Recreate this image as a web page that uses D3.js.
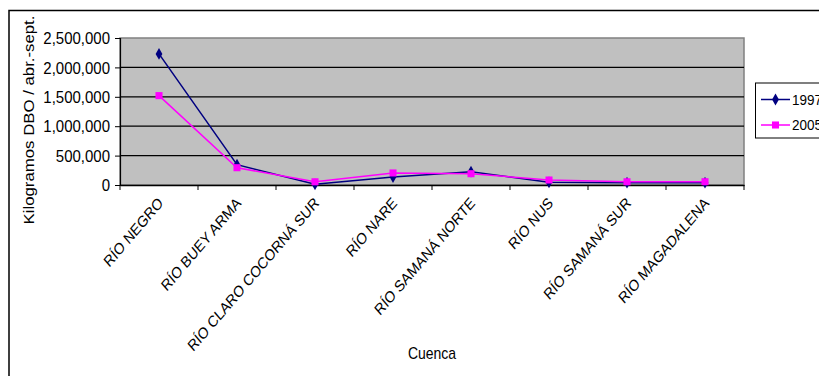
<!DOCTYPE html>
<html><head><meta charset="utf-8">
<script src="https://cdn.jsdelivr.net/npm/d3@7"></script>
<style>body{margin:0;background:#fff;} text{font-family:"Liberation Sans",Arial,sans-serif;}</style>
</head><body>
<svg id="c" width="819" height="376"></svg>
<script>
const categories = ["RÍO NEGRO","RÍO BUEY ARMA","RÍO CLARO COCORNÁ SUR","RÍO NARE","RÍO SAMANÁ NORTE","RÍO NUS","RÍO SAMANÁ SUR","RÍO MAGADALENA"];
const values1997 = [2230000, 345000, 12000, 135000, 226000, 46000, 40000, 40000];
const values2005 = [1520000, 294000, 55000, 205000, 192000, 85000, 55000, 56000];
const yTicks = [0, 500000, 1000000, 1500000, 2000000, 2500000];
const seriesNames = ["1997", "2005"];
const yTitle = "Kilogramos DBO / abr.-sept.";
const xTitle = "Cuenca";

const svg = d3.select("#c");
const L = 120, R = 744, T = 38, B = 185;

// outer frame
svg.append("rect").attr("x", 9).attr("y", 10.5).attr("width", 830).attr("height", 380)
  .attr("fill", "#fff").attr("stroke", "#000").attr("stroke-width", 1.5);

const x = d3.scaleBand().domain(categories).range([L, R]);
const y = d3.scaleLinear().domain([0, 2500000]).range([B, T]);

// plot area
svg.append("rect").attr("x", L).attr("y", T).attr("width", R - L).attr("height", B - T)
  .attr("fill", "#C0C0C0").attr("stroke", "#808080").attr("stroke-width", 1.5);

// gridlines
svg.append("g").selectAll("line").data(yTicks.filter(v => v > 0 && v < 2500000)).join("line")
  .attr("x1", L).attr("x2", R).attr("y1", d => y(d)).attr("y2", d => y(d))
  .attr("stroke", "#000").attr("stroke-width", 1.2);

// y axis
const ya = svg.append("g").attr("transform", `translate(${L},0)`)
  .call(d3.axisLeft(y).tickValues(yTicks).tickSize(5).tickPadding(5).tickFormat(d3.format(",")));
ya.select(".domain").attr("stroke", "#000").attr("stroke-width", 1.2);
ya.selectAll(".tick line").attr("stroke", "#000");
ya.selectAll(".tick text").attr("font-size", 15).attr("fill", "#000")
  .attr("x", -10).attr("dy", null).attr("dominant-baseline", "central")
  .attr("transform", `scale(1,1.1)`).attr("y", 0);

// x axis
const xa = svg.append("g").attr("transform", `translate(0,${B})`)
  .call(d3.axisBottom(x).tickSize(0).tickFormat(""));
xa.select(".domain").attr("stroke", "#000").attr("stroke-width", 1.5);
const bounds = categories.map(c => x(c)).concat([x.range()[1]]);
svg.append("g").selectAll("line").data(bounds).join("line")
  .attr("x1", d => d).attr("x2", d => d).attr("y1", B).attr("y2", B + 5)
  .attr("stroke", "#000").attr("stroke-width", 1);

svg.append("g").selectAll("text").data(categories).join("text")
  .attr("transform", d => `translate(${x(d) + x.bandwidth() / 2 - 2},196) scale(1,1.17) rotate(-45)`)
  .attr("text-anchor", "end").attr("dy", "0.72em").attr("font-size", 13.5).attr("fill", "#000")
  .text(d => d);

// axis titles
svg.append("text").attr("transform", `translate(34,120) scale(1,1.12) rotate(-90)`)
  .attr("text-anchor", "middle").attr("font-size", 15).attr("fill", "#000").text(yTitle);
svg.append("text").attr("transform", `translate(${(L + R) / 2},353) scale(1,1.15)`)
  .attr("text-anchor", "middle").attr("dominant-baseline", "central").attr("font-size", 14).attr("fill", "#000").text(xTitle);

// series
const cx = c => x(c) + x.bandwidth() / 2;
const series = [
  {name: seriesNames[0], vals: values1997, color: "#000080", sym: d3.symbolDiamond, size: 40},
  {name: seriesNames[1], vals: values2005, color: "#FF00FF", sym: d3.symbolSquare, size: 50}
];
const line = d3.line().x(d => cx(d.c)).y(d => y(d.v));
series.forEach(s => {
  const pts = categories.map((c, i) => ({c, v: s.vals[i]}));
  svg.append("path").datum(pts).attr("d", line).attr("fill", "none")
    .attr("stroke", s.color).attr("stroke-width", 1.5);
  svg.append("g").selectAll("path").data(pts).join("path")
    .attr("d", d3.symbol().type(s.sym).size(s.size))
    .attr("transform", d => `translate(${cx(d.c)},${y(d.v)})`)
    .attr("fill", s.color);
});

// legend
svg.append("rect").attr("x", 755.5).attr("y", 83).attr("width", 80).attr("height", 55)
  .attr("fill", "#fff").attr("stroke", "#000").attr("stroke-width", 1);
series.forEach((s, i) => {
  const ly = 99.5 + i * 25.5;
  svg.append("line").attr("x1", 761).attr("x2", 790).attr("y1", ly).attr("y2", ly)
    .attr("stroke", s.color).attr("stroke-width", 1.5);
  svg.append("path").attr("d", d3.symbol().type(s.sym).size(s.size)())
    .attr("transform", `translate(775.5,${ly})`).attr("fill", s.color);
  svg.append("text").attr("transform", `translate(792,${ly}) scale(1,1.15)`)
    .attr("dominant-baseline", "central").attr("font-size", 13.5).attr("fill", "#000").text(s.name);
});
</script>
</body></html>
